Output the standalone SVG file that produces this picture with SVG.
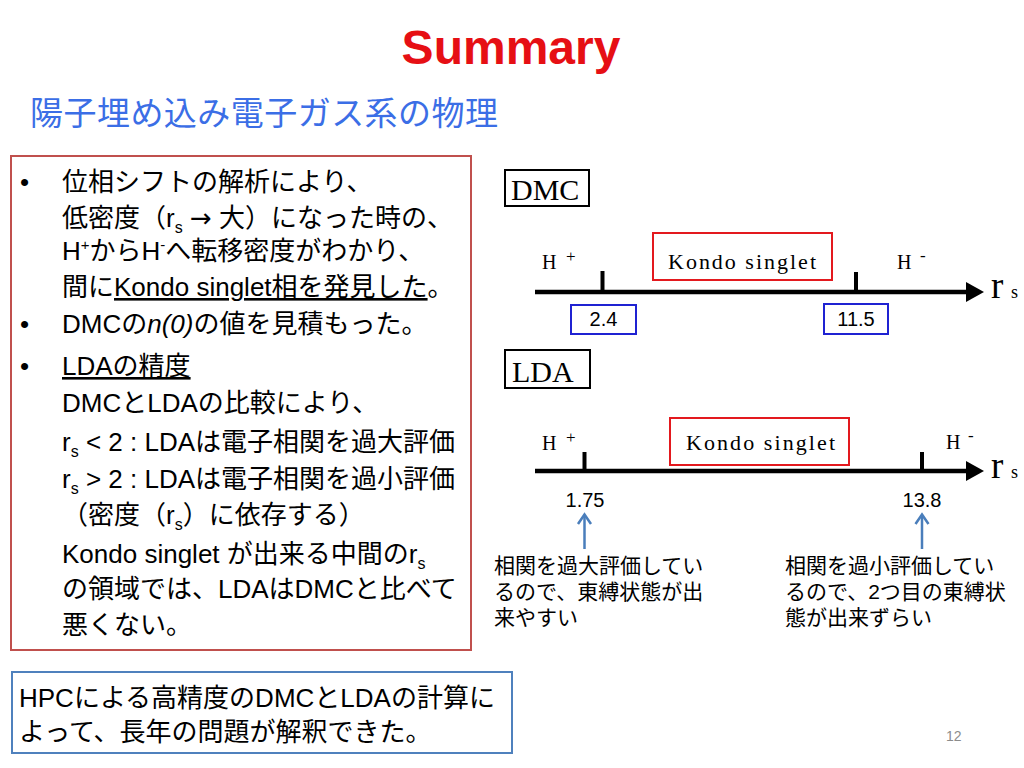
<svg xmlns="http://www.w3.org/2000/svg" width="1024" height="768" viewBox="0 0 1024 768">
<style>
.jp{font-family:"Liberation Sans","Noto Sans CJK JP",sans-serif;fill:#000}
.body{font-size:26px}
.note{font-size:21px}
.serif{font-family:"Liberation Serif","Times New Roman",serif;fill:#000}
.num{font-family:"Liberation Sans",Arial,sans-serif;font-size:20px;fill:#000}
.label{fill:#fff;stroke:#000;stroke-width:2}
.kondo{fill:#fff;stroke:#e3191e;stroke-width:2}
.val{fill:#fff;stroke:#1f22d2;stroke-width:2}
.axis{stroke:#000;stroke-width:4.5;fill:none}
.tick{stroke:#000;stroke-width:4;fill:none}
.up{stroke:#4a7ebb;stroke-width:2.5;fill:none}
.ul{text-decoration:underline}
.arr{font-family:"DejaVu Sans",sans-serif}
</style>
<rect x="0" y="0" width="1024" height="768" fill="#fff"/>

<g id="title">
<text x="511" y="64" text-anchor="middle" font-family="'Liberation Sans',Arial,sans-serif" font-weight="bold" font-size="48" fill="#e60f14">Summary</text>
</g>
<g id="subtitle">
<text x="30" y="125" class="jp" font-size="33" textLength="468" lengthAdjust="spacing" style="fill:#3b6ee6">陽子埋め込み電子ガス系の物理</text>
</g>

<g id="summary-box">
<rect x="11" y="156" width="460" height="494" fill="#fff" stroke="#c0504d" stroke-width="2"/>
<g class="jp body">
<text x="20" y="191">•</text>
<text x="62" y="191">位相シフトの解析により、</text>
<text x="62" y="227">低密度（r<tspan dy="6" font-size="16">s</tspan><tspan dy="-6"> </tspan><tspan class="arr">→</tspan><tspan> 大）になった時の、</tspan></text>
<text x="62" y="260">H<tspan dy="-10" font-size="15">+</tspan><tspan dy="10">からH</tspan><tspan dy="-10" font-size="15">-</tspan><tspan dy="10">へ転移密度がわかり、</tspan></text>
<text x="62" y="296">間に<tspan class="ul">Kondo singlet相を発見した</tspan>。</text>
<text x="20" y="333">•</text>
<text x="62" y="333">DMCの<tspan font-style="italic">n(0)</tspan>の値を見積もった。</text>
<text x="20" y="375">•</text>
<text x="62" y="375" class="ul">LDAの精度</text>
<text x="62" y="412">DMCとLDAの比較により、</text>
<text x="62" y="451">r<tspan dy="6" font-size="16">s</tspan><tspan dy="-6"> &lt; 2 : LDAは電子相関を過大評価</tspan></text>
<text x="62" y="488">r<tspan dy="6" font-size="16">s</tspan><tspan dy="-6"> &gt; 2 : LDAは電子相関を過小評価</tspan></text>
<text x="62" y="524">（密度（r<tspan dy="6" font-size="16">s</tspan><tspan dy="-6">）に依存する）</tspan></text>
<text x="62" y="563">Kondo singlet が出来る中間のr<tspan dy="6" font-size="16">s</tspan></text>
<text x="62" y="598">の領域では、LDAはDMCと比べて</text>
<text x="62" y="634">悪くない。</text>
</g>
</g>

<g id="conclusion-box">
<rect x="12" y="672" width="500" height="81" fill="#fff" stroke="#4f81bd" stroke-width="2"/>
<text x="19" y="707" class="jp body">HPCによる高精度のDMCとLDAの計算に</text>
<text x="19" y="741" class="jp body">よって、長年の問題が解釈できた。</text>
</g>

<g id="connectors">
<line class="axis" x1="535" y1="292" x2="968" y2="292"/>
<polygon points="966,282 984,292 966,302" fill="#000"/>
<line class="tick" x1="602.5" y1="271" x2="602.5" y2="292"/>
<line class="tick" x1="856" y1="272" x2="856" y2="292"/>
<line class="axis" x1="535" y1="471" x2="968" y2="471"/>
<polygon points="966,461 984,471 966,481" fill="#000"/>
<line class="tick" x1="584.5" y1="452" x2="584.5" y2="471"/>
<line class="tick" x1="922" y1="452" x2="922" y2="471"/>
<line class="up" x1="584.5" y1="549" x2="584.5" y2="515"/>
<path class="up" d="M578,524 L584.5,514.5 L591,524"/>
<line class="up" x1="922" y1="549" x2="922" y2="515"/>
<path class="up" d="M915.5,524 L922,514.5 L928.5,524"/>
</g>

<g id="dmc-label">
<rect class="label" x="505" y="170" width="84" height="36"/>
<text x="511" y="200" class="serif" font-size="30">DMC</text>
</g>
<g id="dmc-hplus">
<text x="542" y="269" class="serif" font-size="20">H</text>
<text x="566" y="262" class="serif" font-size="17">+</text>
</g>
<g id="dmc-kondo">
<rect class="kondo" x="653" y="233" width="179" height="47"/>
<text x="668" y="269" class="serif" font-size="22" textLength="148" lengthAdjust="spacing">Kondo singlet</text>
</g>
<g id="dmc-hminus">
<text x="897" y="269" class="serif" font-size="20">H</text>
<text x="920" y="261" class="serif" font-size="17">-</text>
</g>
<g id="dmc-rs">
<text x="991" y="298" class="serif" font-size="37">r</text>
<text x="1011" y="298" class="serif" font-size="18">s</text>
</g>
<g id="dmc-2.4">
<rect class="val" x="571" y="305" width="65" height="29"/>
<text x="603.5" y="326" class="num" text-anchor="middle">2.4</text>
</g>
<g id="dmc-11.5">
<rect class="val" x="824" y="304" width="64" height="30"/>
<text x="856" y="326" class="num" text-anchor="middle">11.5</text>
</g>

<g id="lda-label">
<rect class="label" x="505" y="350" width="85" height="38"/>
<text x="512" y="382" class="serif" font-size="30">LDA</text>
</g>
<g id="lda-hplus">
<text x="542" y="450" class="serif" font-size="20">H</text>
<text x="566" y="443" class="serif" font-size="17">+</text>
</g>
<g id="lda-kondo">
<rect class="kondo" x="670" y="418" width="179" height="47"/>
<text x="686" y="450" class="serif" font-size="22" textLength="149" lengthAdjust="spacing">Kondo singlet</text>
</g>
<g id="lda-hminus">
<text x="946" y="449" class="serif" font-size="20">H</text>
<text x="968" y="441" class="serif" font-size="17">-</text>
</g>
<g id="lda-rs">
<text x="991" y="478" class="serif" font-size="37">r</text>
<text x="1011" y="478" class="serif" font-size="18">s</text>
</g>
<g id="lda-1.75">
<text x="585" y="507" class="num" text-anchor="middle">1.75</text>
</g>
<g id="lda-13.8">
<text x="922" y="507" class="num" text-anchor="middle">13.8</text>
</g>

<g id="note-left">
<text class="jp note" x="494" y="573">相関を過大評価してい</text>
<text class="jp note" x="494" y="599">るので、東縛状態が出</text>
<text class="jp note" x="494" y="625">来やすい</text>
</g>
<g id="note-right">
<text class="jp note" x="785" y="573">相関を過小評価してい</text>
<text class="jp note" x="785" y="599">るので、2つ目の東縛状</text>
<text class="jp note" x="785" y="625">態が出来ずらい</text>
</g>

<g id="page-number">
<text x="946" y="741" font-family="'Liberation Sans',Arial,sans-serif" font-size="14" fill="#8c8c8c">12</text>
</g>
</svg>
